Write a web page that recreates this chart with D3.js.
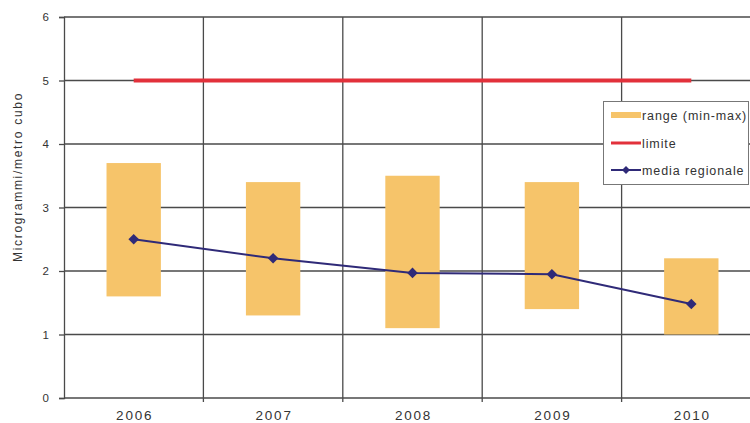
<!DOCTYPE html>
<html><head><meta charset="utf-8">
<script src="https://cdn.jsdelivr.net/npm/d3@7"></script>
<style>body{margin:0;background:#fff}svg{display:block}text{font-family:"Liberation Sans",Arial,sans-serif;fill:#333}</style>
</head><body><svg id="c" width="750" height="423"></svg>
<script>
const years = ["2006","2007","2008","2009","2010"];
const rangeMin = [1.6, 1.3, 1.1, 1.4, 1.0];
const rangeMax = [3.7, 3.4, 3.5, 3.4, 2.2];
const media = [2.5, 2.2, 1.97, 1.95, 1.48];
const limite = [5, 5, 5, 5, 5];
const yTicks = [0,1,2,3,4,5,6];
const yTitle = "Microgrammi/metro cubo";
const legendLabels = ["range (min-max)", "limite", "media regionale"];

const svg = d3.select("#c");
const x = d3.scaleBand().domain(years).range([64, 761]).padding(0);
const y = d3.scaleLinear().domain([0,6]).range([398, 17]);
const grid = "#4a4a4a";

// horizontal grid
svg.append("g").selectAll("line").data(yTicks).join("line")
  .attr("x1",64).attr("x2",750).attr("y1",d=>y(d)).attr("y2",d=>y(d))
  .attr("stroke",grid).attr("stroke-width",1.3);
// vertical grid (category boundaries)
const bounds = years.map(d=>x(d)).slice(1);
svg.append("g").selectAll("line").data(bounds).join("line")
  .attr("x1",d=>d).attr("x2",d=>d).attr("y1",y(6)).attr("y2",y(0)+4)
  .attr("stroke",grid).attr("stroke-width",1.3);
// y axis
const yAxis = svg.append("g").attr("transform","translate(64,0)")
  .call(d3.axisLeft(y).tickValues(yTicks).tickFormat(d3.format("d")).tickSize(5).tickPadding(10));
yAxis.select(".domain").attr("stroke",grid).attr("stroke-width",1.3);
yAxis.selectAll(".tick line").attr("stroke",grid).attr("stroke-width",1.3);
yAxis.selectAll("text").style("font-size","11.5px").attr("fill","#333");
// x labels
svg.append("g").selectAll("text").data(years).join("text")
  .attr("x",d=>x(d)+x.bandwidth()/2+1).attr("y",420).attr("text-anchor","middle")
  .style("font-size","13.5px").style("letter-spacing","1.8px").text(d=>d);

// bars
const bw = x.bandwidth()*0.39;
svg.append("g").selectAll("rect").data(years).join("rect")
  .attr("x",d=>x(d)+x.bandwidth()/2-bw/2).attr("width",bw)
  .attr("y",(d,i)=>y(rangeMax[i])).attr("height",(d,i)=>y(rangeMin[i])-y(rangeMax[i]))
  .attr("fill","#f6c46a");

// limit line
const line = d3.line().x((d,i)=>x(years[i])+x.bandwidth()/2).y(d=>y(d));
svg.append("path").datum(limite).attr("d",line).attr("fill","none")
  .attr("stroke","#e2313b").attr("stroke-width",4);
// media line
svg.append("path").datum(media).attr("d",line).attr("fill","none")
  .attr("stroke","#2f2a78").attr("stroke-width",2);
const marker = d3.symbol().type(d3.symbolSquare).size(56);
svg.append("g").selectAll("path").data(media).join("path")
  .attr("transform",(d,i)=>`translate(${x(years[i])+x.bandwidth()/2},${y(d)}) rotate(45)`)
  .attr("d",marker).attr("fill","#2f2a78");

// y title
svg.append("text").attr("transform","translate(22,177) rotate(-90)")
  .attr("text-anchor","middle").style("font-size","12px").style("letter-spacing","1.7px").text(yTitle);

// legend
const lg = svg.append("g");
lg.append("rect").attr("x",603.5).attr("y",101.5).attr("width",145).attr("height",83)
  .attr("fill","#fff").attr("stroke","#777").attr("stroke-width",1);
const ly = [115, 143, 170];
lg.append("rect").attr("x",611).attr("y",ly[0]-3).attr("width",30).attr("height",6).attr("fill","#f6c46a");
lg.append("line").attr("x1",611).attr("x2",641).attr("y1",ly[1]).attr("y2",ly[1]).attr("stroke","#e2313b").attr("stroke-width",3);
lg.append("line").attr("x1",611).attr("x2",641).attr("y1",ly[2]).attr("y2",ly[2]).attr("stroke","#2f2a78").attr("stroke-width",2);
lg.append("path").attr("transform",`translate(626,${ly[2]}) rotate(45)`).attr("d",d3.symbol().type(d3.symbolSquare).size(32)).attr("fill","#2f2a78");
lg.selectAll("text.l").data(legendLabels).join("text").attr("class","l")
  .attr("x",642).attr("y",(d,i)=>ly[i]+4.5).style("font-size","12.5px").style("letter-spacing","0.9px").text(d=>d);
</script></body></html>
